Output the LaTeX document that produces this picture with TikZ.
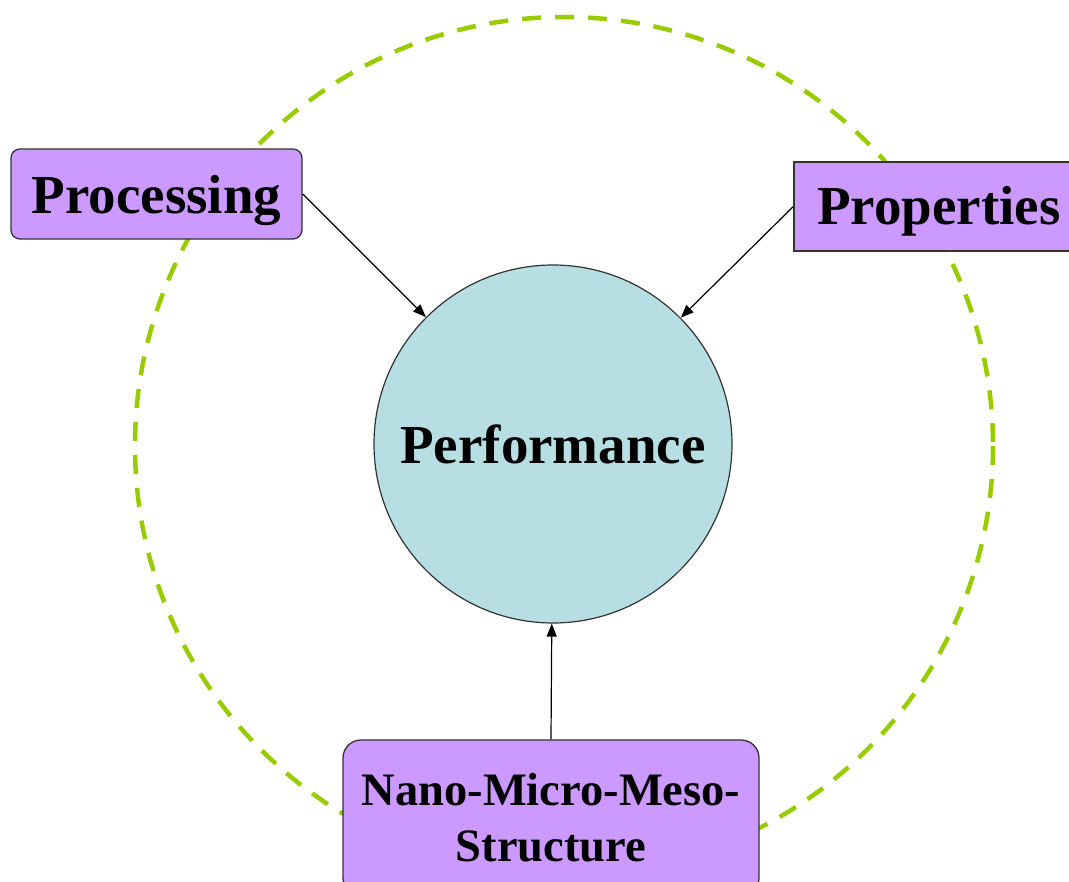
\documentclass[tikz,border=0pt]{standalone}
\usepackage{fontspec}
\setmainfont{Liberation Serif}
\usetikzlibrary{arrows.meta,positioning}

\definecolor{boxpurple}{RGB}{204,153,255}
\definecolor{perfblue}{RGB}{183,223,227}
\definecolor{ringgreen}{RGB}{153,204,0}

\begin{document}
\begin{tikzpicture}[
  x=1pt, y=-1pt,
  box/.style={draw=black!80, fill=boxpurple, line width=1.3pt,
              inner sep=0pt, align=center,
              font=\fontsize{55}{60}\selectfont\bfseries},
  perf/.style={circle, draw=black!80, fill=perfblue, line width=1.2pt,
               minimum size=358pt, inner sep=0pt,
               font=\fontsize{55}{60}\selectfont\bfseries},
  ring/.style={draw=ringgreen, line width=4.5pt,
               dash pattern=on 19pt off 14pt},
  arrow/.style={-{Triangle[length=13pt,width=10pt]}, line width=1.2pt}
]
\useasboundingbox (0,0) rectangle (1069,882);
\draw[ring] (564,446) circle[radius=429];

\node[perf] (perf) at (553,444) {Performance};
\node[box, rounded corners=9pt, minimum width=291pt, minimum height=90pt,
      text height=39pt, text depth=0pt] (proc) at (156.5,194) {Processing};
\node[box, minimum width=290pt, minimum height=89pt,
      text height=37pt, text depth=0pt] (prop) at (939,206.5) {Properties};
\node[box, rounded corners=18pt, minimum width=416pt, minimum height=156pt,
      font=\fontsize{46.5}{56}\selectfont\bfseries] (nano) at (551,818)
      {Nano-Micro-Meso-\\Structure};

\draw[arrow] (proc.east) -- (perf);
\draw[arrow] (prop.west) -- (perf);
\draw[arrow] (nano.north) -- (perf);
\end{tikzpicture}
\end{document}
